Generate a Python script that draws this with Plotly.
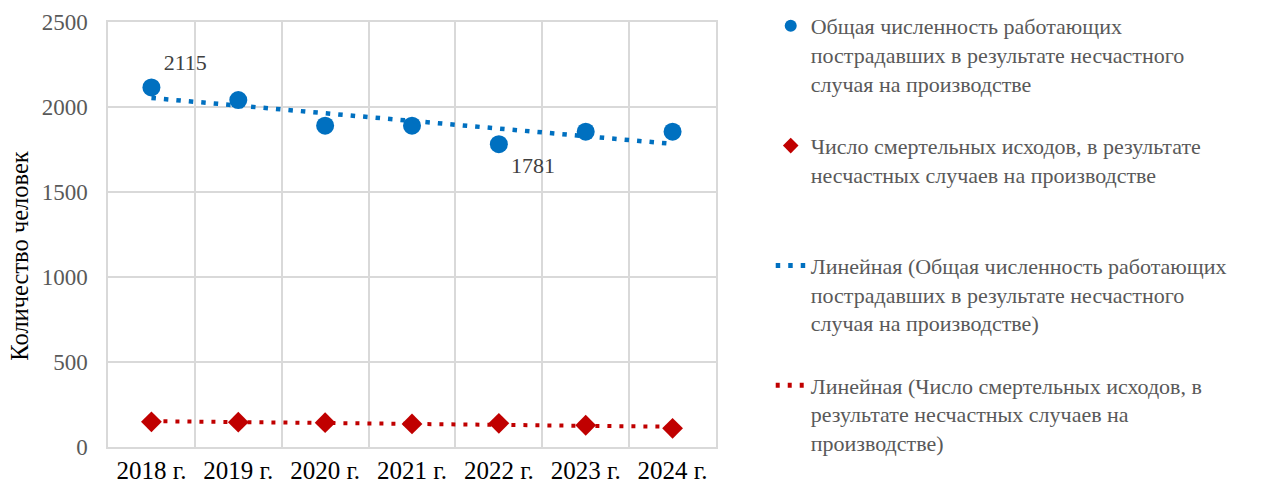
import numpy as np
import plotly.graph_objects as go

years = ["2018 г.", "2019 г.", "2020 г.", "2021 г.", "2022 г.", "2023 г.", "2024 г."]
injured = [2115, 2041, 1890, 1890, 1781, 1855, 1855]
fatal = [148, 146, 143, 136, 139, 128, 110]
label_text = ["2115", "", "", "", "1781", "", ""]
label_pos = ["top right", "top center", "top center", "top center", "bottom right", "top center", "top center"]

name_inj = "Общая численность работающих<br>пострадавших в результате несчастного<br>случая на производстве"
name_fat = "Число смертельных исходов, в результате<br>несчастных случаев на производстве<br> "
name_tr1 = "Линейная (Общая численность работающих<br>пострадавших в результате несчастного<br>случая на производстве)"
name_tr2 = "Линейная (Число смертельных исходов, в<br>результате несчастных случаев на<br>производстве)"
y_title = "Количество человек" + "\u00a0" * 7 + "\u200b"

BLUE = "#0070C0"
RED = "#C00000"
FONT = "Liberation Serif"

xi = np.arange(len(years))
def trend(vals):
    k, b = np.polyfit(xi, np.array(vals, float), 1)
    return list(k * xi + b)

fig = go.Figure()
fig.add_trace(go.Scatter(
    x=years, y=injured, mode="markers+text", name=name_inj, legendgroup="a",
    marker=dict(symbol="circle", size=18, color=BLUE),
    text=label_text, textposition=label_pos,
    textfont=dict(family=FONT, size=22, color="#404040"),
))
fig.add_trace(go.Scatter(
    x=years, y=fatal, mode="markers", name=name_fat, legendgroup="b",
    marker=dict(symbol="diamond", size=16, color=RED),
))
fig.add_trace(go.Scatter(
    x=years, y=trend(injured), mode="lines", name=name_tr1, legendgroup="c",
    line=dict(color=BLUE, width=4.5, dash="4.5px,8px"),
))
fig.add_trace(go.Scatter(
    x=years, y=trend(fatal), mode="lines", name=name_tr2, legendgroup="d",
    line=dict(color=RED, width=4, dash="4px,8px"),
))

fig.update_layout(
    width=1267, height=486,
    margin=dict(l=108, r=551, t=22, b=39, autoexpand=False),
    paper_bgcolor="white", plot_bgcolor="white",
    font=dict(family=FONT, size=22, color="#595959"),
    legend=dict(
        x=1.090, xanchor="left", y=1.04, yanchor="top",
        valign="top", traceorder="grouped", tracegroupgap=31,
        itemsizing="constant", maxheight=486,
        bgcolor="rgba(0,0,0,0)",
        font=dict(family=FONT, size=22, color="#595959"),
    ),
    xaxis=dict(
        type="category", tickson="boundaries", showgrid=True, gridcolor="#D9D9D9", gridwidth=1.5,
        showline=True, linecolor="#D9D9D9", linewidth=1.5, mirror=True,
        ticks="", tickfont=dict(family=FONT, size=25, color="#000000"),
        range=[-0.5, 6.5],
    ),
    yaxis=dict(
        range=[0, 2500], dtick=500, showgrid=True, gridcolor="#D9D9D9", gridwidth=1.5,
        showline=True, linecolor="#D9D9D9", linewidth=1.5, mirror=True,
        zeroline=False, ticks="", ticklabelstandoff=14,
        tickfont=dict(family=FONT, size=23, color="#595959"),
        title=dict(text=y_title, font=dict(family=FONT, size=24.5, color="#000000"), standoff=6),
    ),
)

fig.write_html(
    "out.html",
    config={"displayModeBar": False},
    post_script="document.body.style.margin='0';document.body.style.overflow='hidden';",
)
